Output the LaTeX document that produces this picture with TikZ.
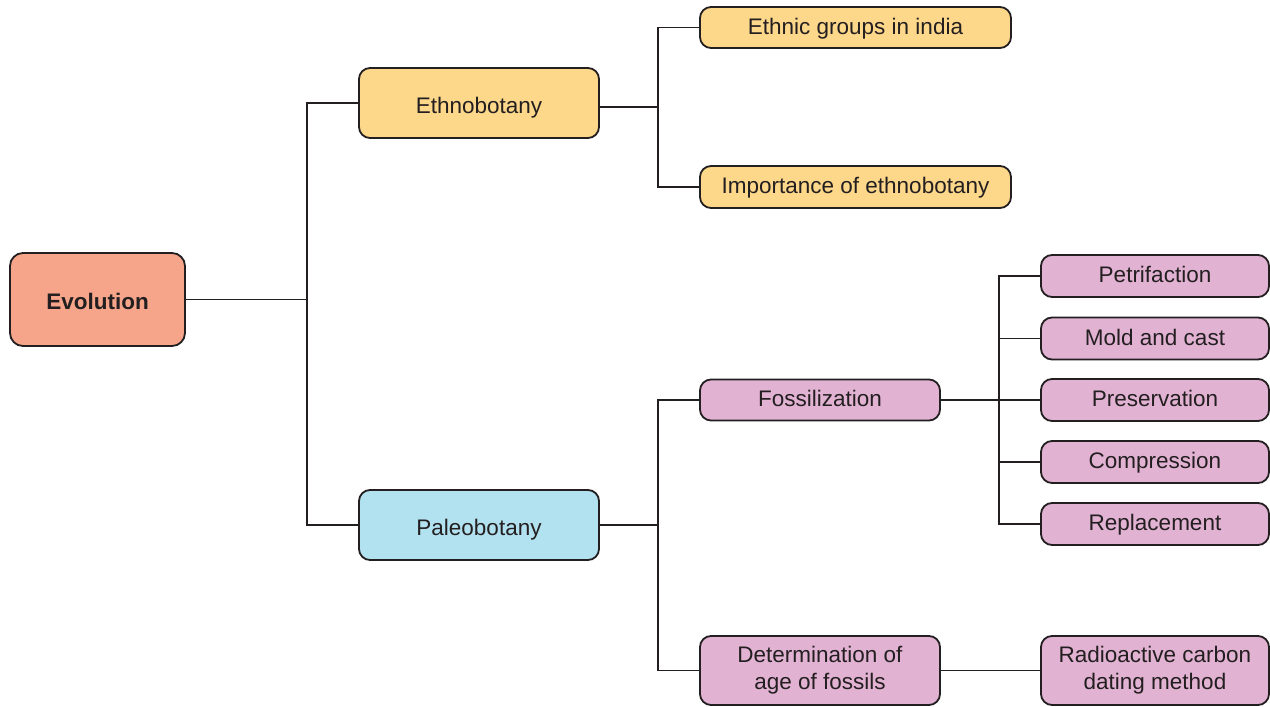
\documentclass[tikz,border=0pt]{standalone}
\usepackage{fontspec}
\setmainfont{Liberation Sans}
\definecolor{salmon}{HTML}{F6A58A}
\definecolor{yel}{HTML}{FDD78A}
\definecolor{blu}{HTML}{B2E1F0}
\definecolor{pnk}{HTML}{E2B2D3}
\definecolor{ink}{HTML}{231F20}
\begin{document}
\begin{tikzpicture}[x=1pt,y=-1pt,
  box/.style={draw=ink, line width=1.8pt, rounded corners=11pt, text=ink,
    inner sep=0pt, align=center, font=\fontsize{22.5}{27}\selectfont},
  bigone/.style={text height=20pt, text depth=0pt},
  smallone/.style={text height=17pt, text depth=4pt},
  conn/.style={draw=ink, line width=1.6pt}]
\useasboundingbox (0,0) rectangle (1270,707);
\node[box, bigone, fill=salmon, minimum width=175pt, minimum height=93pt, rounded corners=13pt, font=\fontsize{22.5}{27}\selectfont\bfseries] (evo) at (97.5,299.5) {Evolution};
\node[box, bigone, fill=yel, minimum width=240pt, minimum height=70pt] (eth) at (479,103) {Ethnobotany};
\node[box, bigone, fill=blu, minimum width=240pt, minimum height=70pt] (pal) at (479,525) {Paleobotany};
\node[box, smallone, fill=yel, minimum width=311pt, minimum height=41pt] (grp) at (855.5,27.5) {Ethnic groups in india};
\node[box, smallone, fill=yel, minimum width=311pt, minimum height=42pt] (imp) at (855.5,187) {Importance of ethnobotany};
\node[box, smallone, fill=pnk, minimum width=240pt, minimum height=41pt] (fos) at (820,400) {Fossilization};
\node[box, fill=pnk, minimum width=240pt, minimum height=69pt] (det) at (820,670.5) {Determination of\\age of fossils};
\node[box, smallone, fill=pnk, minimum width=228pt, minimum height=42pt] (pet) at (1155,276) {Petrifaction};
\node[box, smallone, fill=pnk, minimum width=228pt, minimum height=42pt] (mol) at (1155,338.5) {Mold and cast};
\node[box, smallone, fill=pnk, minimum width=228pt, minimum height=42pt] (pre) at (1155,400) {Preservation};
\node[box, smallone, fill=pnk, minimum width=228pt, minimum height=42pt] (com) at (1155,462) {Compression};
\node[box, smallone, fill=pnk, minimum width=228pt, minimum height=42pt] (rep) at (1155,524) {Replacement};
\node[box, fill=pnk, minimum width=228pt, minimum height=69pt] (rad) at (1155,670.5) {Radioactive carbon\\dating method};
\coordinate (j1) at (307,299.5);
\coordinate (j2) at (658,107);
\coordinate (j3) at (658,525);
\coordinate (j4) at (999,400);
\draw[conn] (evo.east) -- (j1);
\draw[conn] (j1) |- (eth.west);
\draw[conn] (j1) |- (pal.west);
\draw[conn] ([yshift=-4pt]eth.east) -- (j2);
\draw[conn] (j2) |- (grp.west);
\draw[conn] (j2) |- (imp.west);
\draw[conn] (pal.east) -- (j3);
\draw[conn] (j3) |- (fos.west);
\draw[conn] (j3) |- (det.west);
\draw[conn] (fos.east) -- (j4);
\draw[conn] (j4) |- (pet.west);
\draw[conn] (j4) |- (mol.west);
\draw[conn] (j4) -- (pre.west);
\draw[conn] (j4) |- (com.west);
\draw[conn] (j4) |- (rep.west);
\draw[conn] (det.east) -- (rad.west);
\end{tikzpicture}
\end{document}
